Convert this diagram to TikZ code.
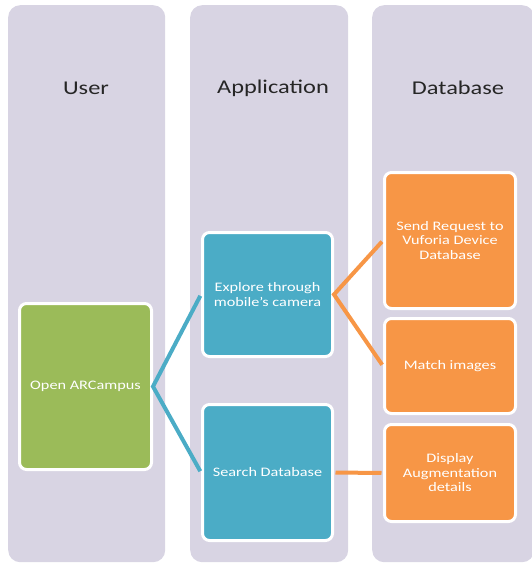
\documentclass[tikz,border=0pt]{standalone}
\usepackage{fontspec}
\setmainfont{Carlito}[FakeStretch=1.25]

\definecolor{lanebg}{RGB}{216,212,227}
\definecolor{usergreen}{RGB}{155,187,89}
\definecolor{appblue}{RGB}{75,172,198}
\definecolor{dborange}{RGB}{247,150,70}

\begin{document}
\begin{tikzpicture}[x=1pt, y=-1pt,
  lane/.style={rectangle, rounded corners=12pt, fill=lanebg, minimum width=157pt, minimum height=557pt, anchor=north west, inner sep=0pt},
  title/.style={font=\fontsize{19.5}{22}\selectfont, text=black!85},
  stepbox/.style={rectangle, rounded corners=7pt, draw=white, line width=3pt, text=white, align=center, font=\fontsize{13}{14.5}\selectfont, inner sep=0pt},
  link/.style={line width=4pt, shorten <=1.5pt, shorten >=1.5pt}]

\useasboundingbox (0,0) rectangle (532,563);

% Draw the three lanes
\node [lane] (ucol) at (8,5) {};
\node [lane, minimum width=158pt] (acol) at (190,5) {};
\node [lane, minimum width=162pt] (dcol) at (372,5) {};

\node [title] (utitle) at (86,88) {User};
\node [title] (atitle) at (273,88) {Application};
\node [title] (dtitle) at (458,88) {Database};

% User
\node [stepbox, fill=usergreen, minimum width=132pt, minimum height=166pt] (open) at (85.5,386.5) {Open ARCampus};

% Application
\node [stepbox, fill=appblue, minimum width=130pt, minimum height=124pt] (explore) at (267.5,294.5) {Explore through\\mobile's camera};
\node [stepbox, fill=appblue, minimum width=130pt, minimum height=136pt] (search) at (267.5,472.5) {Search Database};

% Database
\node [stepbox, fill=dborange, minimum width=131pt, minimum height=136pt] (request) at (450,240.5) {Send Request to\\Vuforia Device\\Database};
\node [stepbox, fill=dborange, minimum width=131pt, minimum height=95pt] (match) at (450,366) {Match images};
\node [stepbox, fill=dborange, minimum width=131pt, minimum height=97pt] (display) at (450,473) {Display\\Augmentation\\details};

% Draw the links
\draw [link, appblue] (explore.west) -- (open.east) -- (search.west);
\draw [link, dborange] (request.west) -- (explore.east) -- (match.west);
\draw [link, dborange] (search.east) -- (display.west);

\end{tikzpicture}
\end{document}
